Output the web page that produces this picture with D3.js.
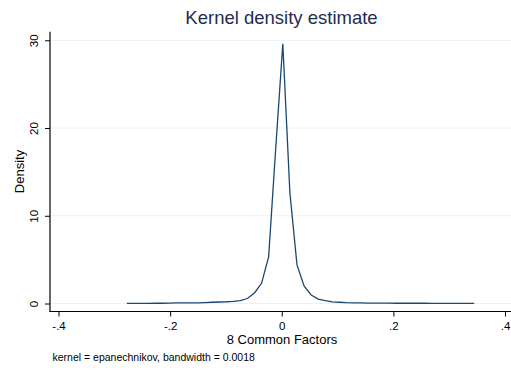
<!DOCTYPE html>
<html><head><meta charset="utf-8">
<script src="https://cdn.jsdelivr.net/npm/d3@7"></script>
<style>
html,body{margin:0;padding:0;background:#fff;}
svg{display:block;font-family:"Liberation Sans",Arial,sans-serif;}
</style></head>
<body>
<svg id="chart" width="511" height="371"></svg>
<script>
const xGrid = [-0.2775,-0.2648,-0.2521,-0.2394,-0.2267,-0.2140,-0.2013,-0.1886,-0.1759,-0.1632,
  -0.1505,-0.1378,-0.1251,-0.1124,-0.0997,-0.0870,-0.0743,-0.0616,-0.0489,-0.0362,
  -0.0235,-0.0108,0.0019,0.0146,0.0273,0.0400,0.0527,0.0654,0.0781,0.0908,
  0.1035,0.1162,0.1289,0.1416,0.1543,0.1670,0.1797,0.1924,0.2051,0.2178,
  0.2305,0.2432,0.2559,0.2686,0.2813,0.2940,0.3067,0.3194,0.3321,0.3448];
const density = [0.02,0.02,0.02,0.02,0.03,0.03,0.04,0.06,0.06,0.06,
  0.07,0.10,0.14,0.17,0.20,0.25,0.32,0.57,1.2,2.3,
  5.3,17.7,29.6,12.6,4.4,2.0,0.97,0.51,0.34,0.19,
  0.14,0.10,0.08,0.06,0.05,0.05,0.04,0.04,0.03,0.03,
  0.03,0.03,0.03,0.02,0.02,0.02,0.02,0.02,0.02,0.02];
const xTicks = [-0.4,-0.2,0,0.2,0.4];
const xTickLabels = ["-.4","-.2","0",".2",".4"];
const yTicks = [0,10,20,30];
const yTickLabels = ["0","10","20","30"];
const titleText = "Kernel density estimate";
const xTitle = "8 Common Factors";
const yTitle = "Density";
const noteText = "kernel = epanechnikov, bandwidth = 0.0018";

const svg = d3.select("#chart");
const x = d3.scaleLinear().domain([-0.4,0.4]).range([58.5,505]);
const y = d3.scaleLinear().domain([0,30]).range([303.5,40.3]);
const axisLeftX = 50, axisBottomY = 311.5, rightEdge = 511;

// gridlines
svg.append("g").selectAll("line").data(yTicks).join("line")
  .attr("x1",axisLeftX).attr("x2",rightEdge)
  .attr("y1",d=>y(d)).attr("y2",d=>y(d))
  .attr("stroke","#eaf2f3").attr("stroke-width",1);

// y axis
const gy = svg.append("g").attr("transform",`translate(${axisLeftX},0)`)
  .call(d3.axisLeft(y).tickValues(yTicks).tickFormat((d,i)=>yTickLabels[i]).tickSize(5).tickSizeOuter(0));
gy.select(".domain").remove();
gy.append("line").attr("x1",0).attr("x2",0).attr("y1",31.7).attr("y2",axisBottomY+0.5)
  .attr("stroke","#000").attr("stroke-width",1.2);
gy.selectAll(".tick line").attr("stroke","#000");
gy.selectAll(".tick text").attr("x",null).attr("dy",null)
  .attr("transform","translate(-12.5,0) rotate(-90)")
  .attr("text-anchor","middle").attr("font-size",11.5).attr("fill","#000")
  .attr("font-family","Liberation Sans, Arial, sans-serif");

// x axis
const gx = svg.append("g").attr("transform",`translate(0,${axisBottomY})`)
  .call(d3.axisBottom(x).tickValues(xTicks).tickFormat((d,i)=>xTickLabels[i]).tickSize(5).tickSizeOuter(0));
gx.select(".domain").remove();
gx.append("line").attr("x1",axisLeftX-0.5).attr("x2",rightEdge).attr("y1",0).attr("y2",0)
  .attr("stroke","#000").attr("stroke-width",1.2);
gx.selectAll(".tick line").attr("stroke","#000");
gx.selectAll(".tick text").attr("y",null).attr("dy",null).attr("transform","translate(0,18.5)")
  .attr("font-size",11.5).attr("fill","#000")
  .attr("font-family","Liberation Sans, Arial, sans-serif");

// density line
const line = d3.line().x((d,i)=>x(xGrid[i])).y(d=>y(d));
svg.append("path").datum(density).attr("d",line)
  .attr("fill","none").attr("stroke","#1a476f").attr("stroke-width",1.3)
  .attr("stroke-linejoin","miter");

// titles
svg.append("text").attr("x",281.5).attr("y",23.5).attr("text-anchor","middle")
  .attr("font-size",18.5).attr("fill","#1e2d53").text(titleText);
svg.append("text").attr("x",282).attr("y",343.5).attr("text-anchor","middle")
  .attr("font-size",13).attr("fill","#000").text(xTitle);
svg.append("text").attr("transform","translate(23.5,171.5) rotate(-90)").attr("text-anchor","middle")
  .attr("font-size",13).attr("fill","#000").text(yTitle);
svg.append("text").attr("x",52.5).attr("y",361).attr("font-size",10.5).attr("fill","#000").text(noteText);
</script>
</body></html>
